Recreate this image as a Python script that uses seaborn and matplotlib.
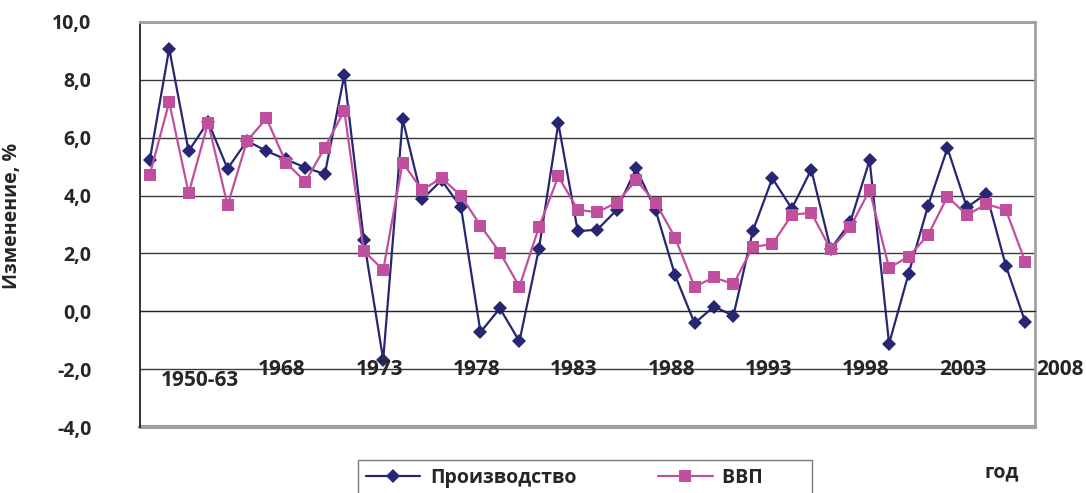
import numpy as np
import pandas as pd
import seaborn as sns
import matplotlib.pyplot as plt
from matplotlib.ticker import MultipleLocator, FuncFormatter

# categories: first one is the 1950-63 average, then yearly
categories = ['1950-63'] + [str(y) for y in range(1964, 2009)]
production = [5.22, 9.08, 5.54, 6.55, 4.93, 5.89, 5.54, 5.25, 4.97, 4.74,
              8.16, 2.48, -1.67, 6.64, 3.87, 4.53, 3.59, -0.72, 0.10, -1.04,
              2.15, 6.50, 2.77, 2.82, 3.50, 4.94, 3.50, 1.25, -0.41, 0.16,
              -0.15, 2.78, 4.60, 3.55, 4.90, 2.15, 3.07, 5.22, -1.12, 1.29,
              3.64, 5.64, 3.59, 4.07, 1.58, -0.38]
gdp = [4.71, 7.23, 4.08, 6.52, 3.66, 5.89, 6.67, 5.14, 4.48, 5.66,
       6.94, 2.09, 1.43, 5.14, 4.19, 4.61, 3.99, 2.96, 2.03, 0.85,
       2.90, 4.66, 3.51, 3.42, 3.76, 4.53, 3.76, 2.55, 0.85, 1.17,
       0.94, 2.23, 2.32, 3.33, 3.41, 2.14, 2.90, 4.19, 1.50, 1.89,
       2.63, 3.96, 3.33, 3.70, 3.51, 1.71]
shown_labels = ['1950-63', '1968', '1973', '1978', '1983', '1988',
                '1993', '1998', '2003', '2008']

df = pd.DataFrame({'idx': np.arange(len(categories)),
                   'Производство': production, 'ВВП': gdp})

sns.set_style('white')
plt.rcParams['font.family'] = ['Open Sans', 'DejaVu Sans']
plt.rcParams['font.weight'] = 'bold'

navy = '#262673'
pink = '#C0509E'

fig = plt.figure(figsize=(10.86, 4.93), dpi=100)
ax = fig.add_axes([140 / 1086, 1 - 427 / 493, 895 / 1086, 405 / 493])

sns.lineplot(data=df, x='idx', y='Производство', ax=ax, color=navy, lw=1.6,
             marker='D', markersize=7, markeredgewidth=0, label='Производство')
sns.lineplot(data=df, x='idx', y='ВВП', ax=ax, color=pink, lw=1.6,
             marker='s', markersize=8, markeredgewidth=0, label='ВВП')
ax.get_legend().remove()

ax.set_xlim(-0.5, len(categories) - 0.5)
ax.set_ylim(-4, 10)
ax.yaxis.set_major_locator(MultipleLocator(2))
ax.yaxis.set_major_formatter(FuncFormatter(lambda v, p: f'{v:.1f}'.replace('.', ',')))
ax.yaxis.grid(True, color='#3a3a3a', lw=1)
ax.set_axisbelow(True)

# x axis runs along zero with small ticks between categories
ax.spines['bottom'].set_position(('data', 0))
ax.spines['bottom'].set_color('#222222')
ax.set_xticks(np.arange(-0.5, len(categories), 1))
ax.set_xticklabels([])
ax.tick_params(axis='x', direction='out', length=5, width=1, color='#444444')
ax.tick_params(axis='y', direction='out', length=8, width=1, pad=27,
               labelsize=14, color='#222222')
ax.spines['left'].set_color('#222222')
ax.spines['left'].set_linewidth(1.3)
for s in ['top', 'right']:
    ax.spines[s].set_color('#a0a0a0')
    ax.spines[s].set_linewidth(2)
ax.axhline(-4, color='#a0a0a0', lw=3, clip_on=False)

ax.set_xlabel('')
ax.set_ylabel('Изменение, %', fontsize=14, fontweight='bold')
ax.yaxis.set_label_coords(-118 / 895, 0.52)

# year labels sit inside the plot near -2
label_pos = np.arange(len(shown_labels)) * 5 + 1.8
label_y = np.full(len(shown_labels), -2.0)
label_pos[0] += 0.8
label_y[0] = -2.4
for lab, xp, yp in zip(shown_labels, label_pos, label_y):
    ax.text(xp, yp, lab, ha='center', va='center', fontsize=15,
            fontweight='bold', clip_on=False)

handles, labels = ax.get_legend_handles_labels()
leg = fig.legend(handles, ['Производство', 'ВВП' + ' ' * 8], ncol=2,
                 loc='upper left', bbox_to_anchor=(358 / 1086, 1 - 460 / 493),
                 frameon=True, fancybox=False, edgecolor='#555555',
                 handlelength=2.8, handletextpad=0.5, columnspacing=4.2,
                 borderpad=0.4, borderaxespad=0,
                 prop={'weight': 'bold', 'size': 14})
leg.get_frame().set_linewidth(1)

fig.text(1002 / 1086, 1 - 472 / 493, 'год', ha='center', va='center',
         fontsize=14, fontweight='bold')

fig.savefig('out.png', dpi=100)
